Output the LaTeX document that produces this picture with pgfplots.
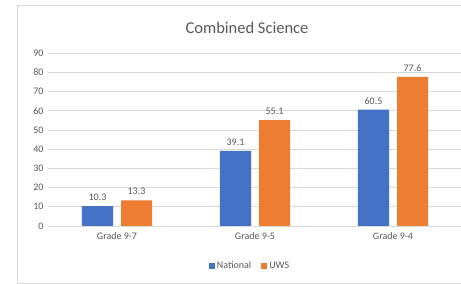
\documentclass[border=0pt]{standalone}
\usepackage{pgfplots}
\pgfplotsset{compat=1.18}
\usepackage{fontspec}
\setmainfont{Carlito}
\definecolor{cblue}{HTML}{4472C4}
\definecolor{corange}{HTML}{ED7D31}
\definecolor{txt}{HTML}{595959}
\definecolor{gridc}{HTML}{D9D9D9}
\begin{document}
\begin{tikzpicture}[x=1pt,y=1pt]
\useasboundingbox (0,0) rectangle (461,284);
\clip (0,0) rectangle (461,284);
\fill[white] (0,0) rectangle (461,284);
\draw[gridc, line width=0.8pt] (17,1) rectangle (480,279);
\node[font=\fontsize{16.5}{18}\selectfont, text=txt] at (247,256) {Combined Science};
\begin{axis}[
  at={(48pt,58pt)}, anchor=south west,
  scale only axis, width=414pt, height=173pt,
  xmin=-0.5, xmax=2.5, ymin=0, ymax=90,
  ybar, bar width=31pt,
  xtick={0,1,2}, xticklabels={Grade 9-7, Grade 9-5, Grade 9-4},
  ytick={0,10,...,90},
  ymajorgrids, grid style={draw=gridc, line width=0.6pt},
  axis line style={draw=none},
  major tick length=0pt,
  tick label style={font=\fontsize{10}{11}\selectfont, text=txt},
  /pgf/number format/assume math mode=true,
  xticklabel style={yshift=-3pt},
  yticklabel style={xshift=-1pt},
  nodes near coords,
  nodes near coords style={font=\fontsize{10}{11}\selectfont, text=txt, yshift=2pt, /pgf/number format/fixed, /pgf/number format/precision=1, /pgf/number format/fixed zerofill},
  legend style={at={(0.488,-0.231)}, anchor=center, draw=none, fill=none, legend columns=2, font=\fontsize{10}{11}\selectfont, text=txt, /tikz/every even column/.append style={column sep=8pt}},
  legend image code/.code={\fill[#1] (0pt,-3pt) rectangle (6pt,3pt);},
]
\addplot[fill=cblue, draw=none, bar shift=-19.5pt] coordinates {(0,10.3) (1,39.1) (2,60.5)};
\addplot[fill=corange, draw=none, bar shift=19.5pt] coordinates {(0,13.3) (1,55.1) (2,77.6)};
\legend{National, UWS}
\end{axis}
\end{tikzpicture}
\end{document}
